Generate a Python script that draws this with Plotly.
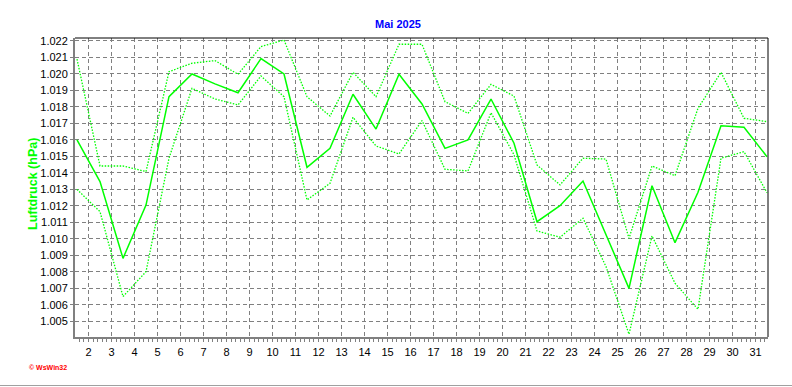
import plotly.graph_objects as go

# Days of May 2025 (values are daily, plotted at midday)
days = list(range(1, 32))

# Mean air pressure (hPa, as displayed on the axis)
mean_p = [1.0160, 1.01347, 1.00882, 1.01205, 1.01862, 1.02000, 1.01940, 1.01886,
          1.02093, 1.02000, 1.01434, 1.01549, 1.01877, 1.01666, 1.01998, 1.01818,
          1.01549, 1.01600, 1.01848, 1.01580, 1.01104, 1.01201, 1.01351, 1.01024,
          1.00700, 1.01322, 1.00977, 1.01283, 1.01686, 1.01677, 1.01498]

# Daily maximum
max_p = [1.02090, 1.01442, 1.01442, 1.01408, 1.02014, 1.02065, 1.02081, 1.01998,
         1.02166, 1.02206, 1.01862, 1.01745, 1.02010, 1.01862, 1.02180, 1.02180,
         1.01832, 1.01761, 1.01937, 1.01866, 1.01448, 1.01327, 1.01489, 1.01484,
         1.01003, 1.01442, 1.01383, 1.01792, 1.02010, 1.01731, 1.01711]

# Daily minimum
min_p = [1.01300, 1.01165, 1.00650, 1.00801, 1.01489, 1.01913, 1.01848, 1.01812,
         1.01988, 1.01862, 1.01236, 1.01337, 1.01737, 1.01563, 1.01515, 1.01717,
         1.01422, 1.01412, 1.01765, 1.01510, 1.01048, 1.01010, 1.01125, 1.00832,
         1.00422, 1.01018, 1.00731, 1.00573, 1.01489, 1.01529, 1.01280]

x_tick_vals = list(range(2, 32))
x_tick_text = [str(d) for d in x_tick_vals]

title_text = "Mai 2025"
y_title = "Luftdruck (hPa)"
credit = "© WsWin32"

x = [d + 0.5 for d in days]
GREEN = "#00ff00"

fig = go.Figure()
fig.add_trace(go.Scatter(x=x, y=max_p, mode="lines",
                         line=dict(color=GREEN, width=1.3, dash="1.5px,1.5px"),
                         hoverinfo="skip"))
fig.add_trace(go.Scatter(x=x, y=min_p, mode="lines",
                         line=dict(color=GREEN, width=1.3, dash="1.5px,1.5px"),
                         hoverinfo="skip"))
fig.add_trace(go.Scatter(x=x, y=mean_p, mode="lines",
                         line=dict(color=GREEN, width=1.5),
                         hoverinfo="skip"))

W, H = 792, 387
L, R, T, B = 75, 768, 38, 337
pw, ph = R - L, B - T

def px(xp):
    return (xp - L) / pw

def py(yp):
    return (B - yp) / ph

grid = dict(showgrid=True, gridcolor="#808080", gridwidth=1, griddash="4px,3px")

fig.update_layout(
    width=W, height=H, autosize=False,
    margin=dict(l=L, r=W - R, t=T, b=H - B, pad=0),
    paper_bgcolor="white", plot_bgcolor="white",
    showlegend=False,
    font=dict(family="Liberation Sans, Arial, sans-serif", size=11, color="black"),
    xaxis=dict(range=[2 - 13.5 / 23, 2 - 13.5 / 23 + pw / 23],
               tickmode="array", tickvals=x_tick_vals, ticktext=x_tick_text,
               ticks="outside", ticklen=3, tickcolor="#808080", tickwidth=1,
               showline=True, linecolor="#808080", linewidth=2,
               zeroline=False, ticklabelstandoff=1,
               minor=dict(dtick=0.2, tick0=2, ticks="outside", ticklen=3,
                          tickcolor="#808080", showgrid=False),
               **grid),
    yaxis=dict(range=[1.00405, 1.02218], tick0=1.005, dtick=0.001,
               tickformat=".3f", ticks="outside", ticklen=3,
               tickcolor="#808080", tickwidth=1,
               showline=True, linecolor="#808080", linewidth=2,
               zeroline=False, **grid),
    annotations=[
        dict(text=f"<b>{title_text}</b>", x=px(397.5), y=py(24.5), xref="paper", yref="paper",
             showarrow=False, xanchor="center", yanchor="middle",
             font=dict(size=11, color="#0000ff")),
        dict(text=f"<b>{y_title}</b>", x=px(33), y=py(184), xref="paper", yref="paper",
             showarrow=False, xanchor="center", yanchor="middle", textangle=-90,
             font=dict(size=12.5, color=GREEN)),
        dict(text=f"<b>{credit}</b>", x=px(27), y=py(367), xref="paper", yref="paper",
             showarrow=False, xanchor="left", yanchor="middle",
             font=dict(size=7, color="#ff0000")),
    ],
    shapes=[
        dict(type="line", xref="paper", yref="paper", x0=0, x1=1, y0=1, y1=1,
             line=dict(color="black", width=1)),
        dict(type="line", xref="paper", yref="paper", x0=1, x1=1, y0=0, y1=1,
             line=dict(color="black", width=1)),
        dict(type="line", xref="paper", yref="paper", x0=px(0), x1=px(W), y0=py(385.5), y1=py(385.5),
             line=dict(color="#a0a0a0", width=1)),
    ],
)

fig.write_html("out.html", config={"displayModeBar": False})
